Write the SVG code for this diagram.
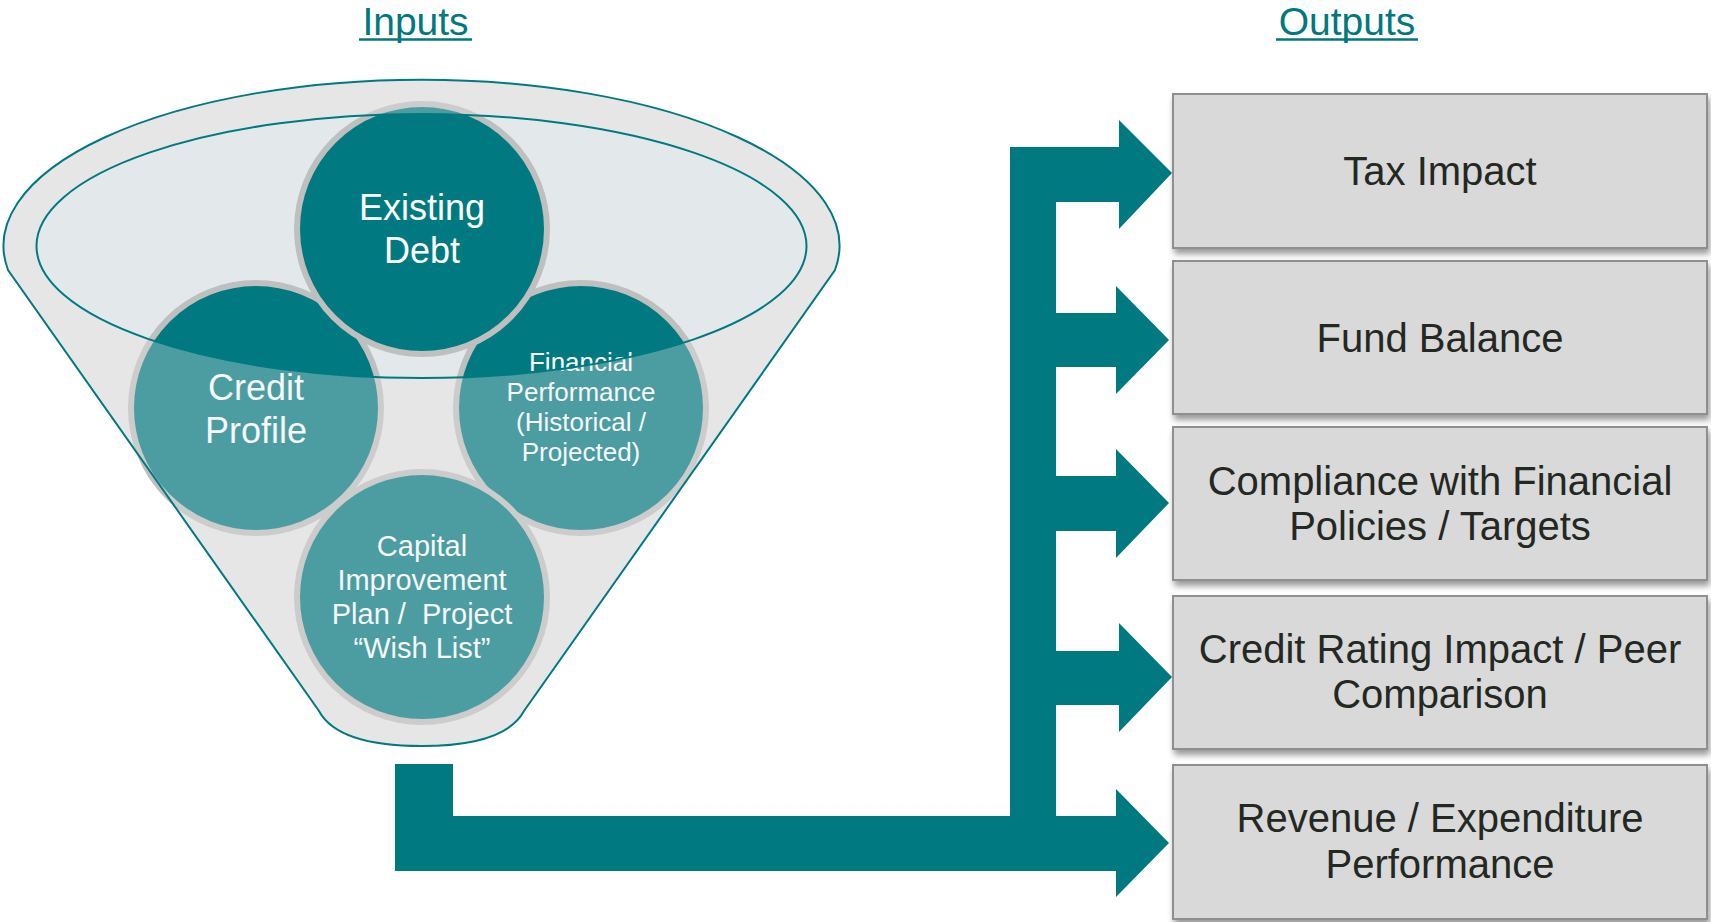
<svg xmlns="http://www.w3.org/2000/svg" width="1711" height="922" viewBox="0 0 1711 922">
<defs>
<style>
.title{font-family:"Liberation Sans",Arial,sans-serif;font-size:39px;fill:#00787E;text-anchor:middle}
.ul{stroke:#00787E;stroke-width:2.5}
.circ{fill:#007A80;stroke:#BFBFBF;stroke-width:6}
.ctext{font-family:"Liberation Sans",Arial,sans-serif;fill:#FFFFFF;text-anchor:middle}
.box{fill:#D9D9D9;stroke:#8F8F8F;stroke-width:2;filter:url(#shadow)}
.btext{font-family:"Liberation Sans",Arial,sans-serif;font-size:40px;fill:#232823;text-anchor:middle}
.conn{fill:#007A80}
</style>
<filter id="shadow" x="-5%" y="-10%" width="115%" height="130%">
<feDropShadow dx="2" dy="5" stdDeviation="3" flood-color="#000000" flood-opacity="0.4"/>
</filter>
</defs>

<g id="titles">
<text class="title" x="415.5" y="35">Inputs</text>
<line class="ul" x1="359" y1="39.5" x2="472" y2="39.5"/>
<text class="title" x="1347" y="35">Outputs</text>
<line class="ul" x1="1276" y1="39.5" x2="1418" y2="39.5"/>
</g>

<g id="funnel-base">
<path d="M 8,270 A 418,166 0 1 1 835,270 L 524,711 Q 505,746 421.5,746 Q 338,746 319,711 Z" fill="#E6E6E6"/>
<ellipse cx="421.5" cy="246" rx="385" ry="132" fill="#E3E9EB"/>
</g>

<g id="node-credit-profile">
<circle class="circ" cx="256" cy="408" r="125"/>
<text class="ctext" font-size="36" x="256" y="400">Credit</text>
<text class="ctext" font-size="36" x="256" y="443">Profile</text>
</g>

<g id="node-financial-performance">
<circle class="circ" cx="581" cy="408" r="125"/>
<text class="ctext" font-size="26" x="581" y="371">Financial</text>
<text class="ctext" font-size="26" x="581" y="401">Performance</text>
<text class="ctext" font-size="26" x="581" y="431">(Historical /</text>
<text class="ctext" font-size="26" x="581" y="461">Projected)</text>
</g>

<g id="node-existing-debt">
<circle class="circ" cx="422" cy="229" r="125"/>
<text class="ctext" font-size="36" x="422" y="220">Existing</text>
<text class="ctext" font-size="36" x="422" y="263">Debt</text>
</g>

<g id="node-capital-plan">
<circle class="circ" cx="422" cy="597" r="125"/>
<text class="ctext" font-size="29" x="422" y="556">Capital</text>
<text class="ctext" font-size="29" x="422" y="590">Improvement</text>
<text class="ctext" font-size="29" x="422" y="624">Plan /&#160; Project</text>
<text class="ctext" font-size="29" x="422" y="658">“Wish List”</text>
</g>

<g id="funnel-front">
<path d="M 8,270 A 418,166 0 1 1 835,270 L 524,711 Q 505,746 421.5,746 Q 338,746 319,711 Z M 36.5,246 A 385,132 0 1 0 806.5,246 A 385,132 0 1 0 36.5,246 Z" fill="#E6E6E6" fill-opacity="0.33" fill-rule="evenodd"/>
<path d="M 8,270 A 418,166 0 1 1 835,270 L 524,711 Q 505,746 421.5,746 Q 338,746 319,711 Z" fill="none" stroke="#007A80" stroke-width="2"/>
<ellipse cx="421.5" cy="246" rx="385" ry="132" fill="none" stroke="#007A80" stroke-width="2"/>
</g>

<g id="connectors">
<rect class="conn" x="395" y="764" width="58" height="107"/>
<rect class="conn" x="452" y="816" width="665" height="55"/>
<rect class="conn" x="1010" y="147" width="46" height="672"/>
<path class="conn" d="M 1010,147 L 1119,147 L 1119,120 L 1172,173 L 1119,229 L 1119,202 L 1010,202 Z"/>
<path class="conn" d="M 1056,313 L 1116,313 L 1116,286 L 1169,340 L 1116,394 L 1116,367 L 1056,367 Z"/>
<path class="conn" d="M 1056,476 L 1116,476 L 1116,449 L 1169,503 L 1116,558 L 1116,531 L 1056,531 Z"/>
<path class="conn" d="M 1056,651 L 1119,651 L 1119,623 L 1172,677 L 1119,732 L 1119,705 L 1056,705 Z"/>
<path class="conn" d="M 1110,816 L 1116,816 L 1116,789 L 1169,843 L 1116,897 L 1116,871 L 1110,871 Z"/>
</g>

<g id="node-tax-impact">
<rect class="box" x="1173" y="94" width="534" height="154"/>
<text class="btext" x="1440" y="185">Tax Impact</text>
</g>
<g id="node-fund-balance">
<rect class="box" x="1173" y="261" width="534" height="153"/>
<text class="btext" x="1440" y="352">Fund Balance</text>
</g>
<g id="node-compliance">
<rect class="box" x="1173" y="427" width="534" height="153"/>
<text class="btext" x="1440" y="495">Compliance with Financial</text>
<text class="btext" x="1440" y="540">Policies / Targets</text>
</g>
<g id="node-credit-rating">
<rect class="box" x="1173" y="596" width="534" height="153"/>
<text class="btext" x="1440" y="663">Credit Rating Impact / Peer</text>
<text class="btext" x="1440" y="708">Comparison</text>
</g>
<g id="node-revenue-expenditure">
<rect class="box" x="1173" y="765" width="534" height="154"/>
<text class="btext" x="1440" y="832">Revenue / Expenditure</text>
<text class="btext" x="1440" y="878">Performance</text>
</g>
</svg>
